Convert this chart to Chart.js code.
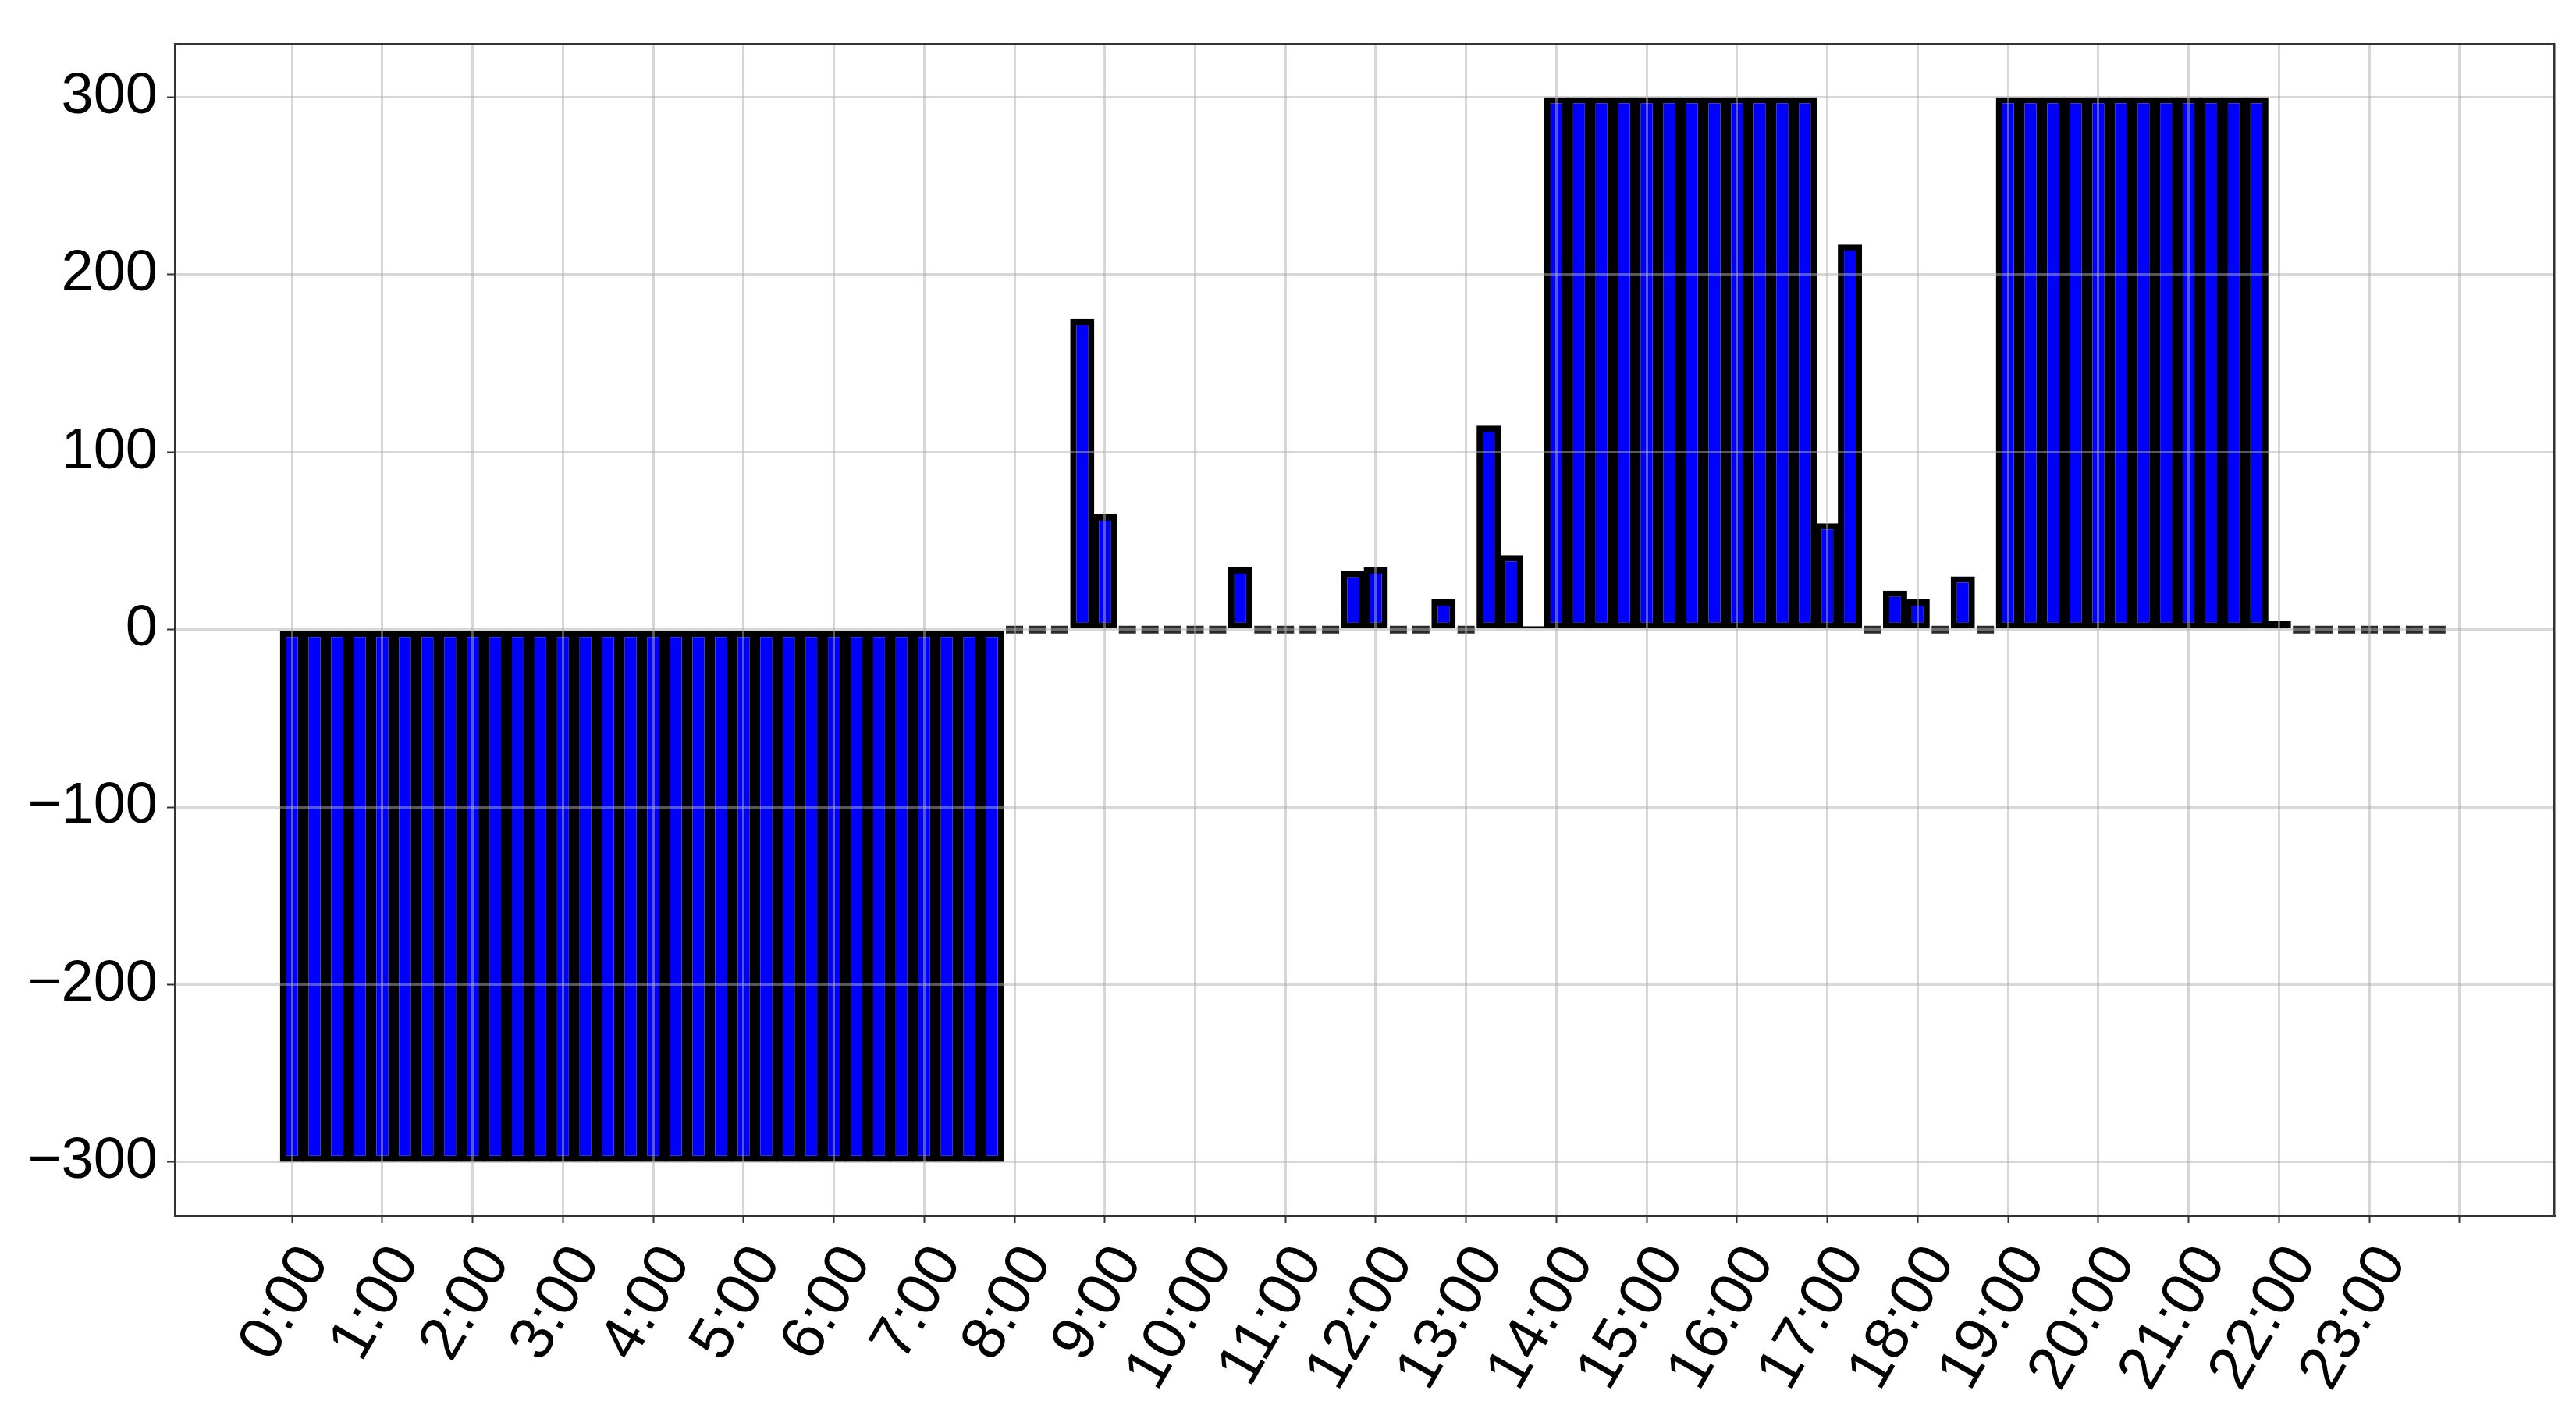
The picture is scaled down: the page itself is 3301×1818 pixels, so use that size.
<!DOCTYPE html>
<html>
<head>
<meta charset="utf-8">
<script src="https://cdn.jsdelivr.net/npm/chart.js@4.4.1/dist/chart.umd.min.js"></script>
<style>
  html, body { margin: 0; padding: 0; background: #fff; }
  #wrap { width: 3301px; height: 1818px; }
</style>
</head>
<body>
<div id="wrap"><canvas id="chart" width="3301" height="1818"></canvas></div>
<script>
// one value per quarter hour, 0:00 .. 23:45 (96 slots)
const values = [
  -300, -300, -300, -300, -300, -300, -300, -300,   // 0:00 - 1:45
  -300, -300, -300, -300, -300, -300, -300, -300,   // 2:00 - 3:45
  -300, -300, -300, -300, -300, -300, -300, -300,   // 4:00 - 5:45
  -300, -300, -300, -300, -300, -300, -300, -300,   // 6:00 - 7:45
  0, 0, 0, 175, 65, 0, 0, 0, 0, 0, 35, 0,           // 8:00 - 10:45
  0, 0, 0, 33, 35, 0, 0, 17, 0, 115, 42, 2,         // 11:00 - 13:45
  300, 300, 300, 300, 300, 300, 300, 300, 300, 300, 300, 300, // 14:00 - 16:45
  60, 217, 0, 22, 17, 0, 30, 0,                     // 17:00 - 18:45
  300, 300, 300, 300, 300, 300, 300, 300, 300, 300, 300, 300, // 19:00 - 21:45
  5, 0, 0, 0, 0, 0, 0, 0                            // 22:00 - 23:45
];

const hourLabels = [
  '0:00', '1:00', '2:00', '3:00', '4:00', '5:00', '6:00', '7:00',
  '8:00', '9:00', '10:00', '11:00', '12:00', '13:00', '14:00', '15:00',
  '16:00', '17:00', '18:00', '19:00', '20:00', '21:00', '22:00', '23:00'
];

// tick positions in slot units (one every hour, plus the end of the day)
const xTicks = [0, 4, 8, 12, 16, 20, 24, 28, 32, 36, 40, 44, 48, 52, 56, 60, 64, 68, 72, 76, 80, 84, 88, 92, 96];
const yTicks = [-300, -200, -100, 0, 100, 200, 300];

const FONT = 'Liberation Sans, Arial, sans-serif';
const gridColor = 'rgba(176, 176, 176, 0.5)';

// non-zero slots get the blue bars, zero slots only show their outline as a dash
const barPoints = values.map((v, i) => ({ x: i, y: v === 0 ? null : v }));
const zeroPoints = values.map((v, i) => ({ x: i, y: v === 0 ? v : null }));

const frame = {
  id: 'frame',
  afterDraw(chart) {
    const { ctx, chartArea: a } = chart;
    ctx.save();
    ctx.strokeStyle = '#333';
    ctx.lineWidth = 3;
    ctx.beginPath();
    ctx.moveTo(a.left, a.top);
    ctx.lineTo(a.right, a.top);
    ctx.lineTo(a.right, a.bottom);
    ctx.stroke();
    ctx.restore();
  }
};

new Chart(document.getElementById('chart'), {
  type: 'bar',
  data: {
    datasets: [
      {
        data: barPoints,
        backgroundColor: '#0000ff',
        borderColor: '#000000',
        borderWidth: 8,
        borderSkipped: false,
        barPercentage: 1.07,
        categoryPercentage: 1,
        skipNull: true
      },
      {
        data: zeroPoints,
        backgroundColor: '#2a2a2a',
        borderWidth: 0,
        minBarLength: 10,
        barPercentage: 0.76,
        categoryPercentage: 1,
        skipNull: true
      }
    ]
  },
  options: {
    responsive: false,
    animation: false,
    layout: { padding: { top: 40, right: 28, left: 0, bottom: 0 } },
    plugins: {
      legend: { display: false },
      tooltip: { enabled: false }
    },
    scales: {
      x: {
        type: 'linear',
        min: -5.19,
        max: 100.19,
        offset: false,
        afterBuildTicks: axis => { axis.ticks = xTicks.map(v => ({ value: v })); },
        afterFit: axis => { axis.height = 261; },
        grid: { offset: false, color: gridColor, lineWidth: 3, z: 1, drawTicks: true, tickLength: 10, tickColor: '#333', tickWidth: 2 },
        border: { display: true, color: '#333', width: 3, z: 1 },
        ticks: {
          autoSkip: false,
          minRotation: 60,
          maxRotation: 60,
          padding: 14,
          labelOffset: 30,
          color: '#000',
          font: { family: FONT, size: 78 },
          callback: v => hourLabels[v / 4] ?? ''
        }
      },
      y: {
        min: -330,
        max: 330,
        afterBuildTicks: axis => { axis.ticks = yTicks.map(v => ({ value: v })); },
        afterFit: axis => { axis.width = 224; },
        grid: { color: gridColor, lineWidth: 3, z: 1, drawTicks: true, tickLength: 10, tickColor: '#333', tickWidth: 2 },
        border: { display: true, color: '#333', width: 3, z: 1 },
        ticks: {
          padding: 12,
          color: '#000',
          font: { family: FONT, size: 74 },
          callback: v => (v < 0 ? '\u2212' + Math.abs(v) : String(v))
        }
      }
    }
  },
  plugins: [frame]
});
</script>
</body>
</html>
